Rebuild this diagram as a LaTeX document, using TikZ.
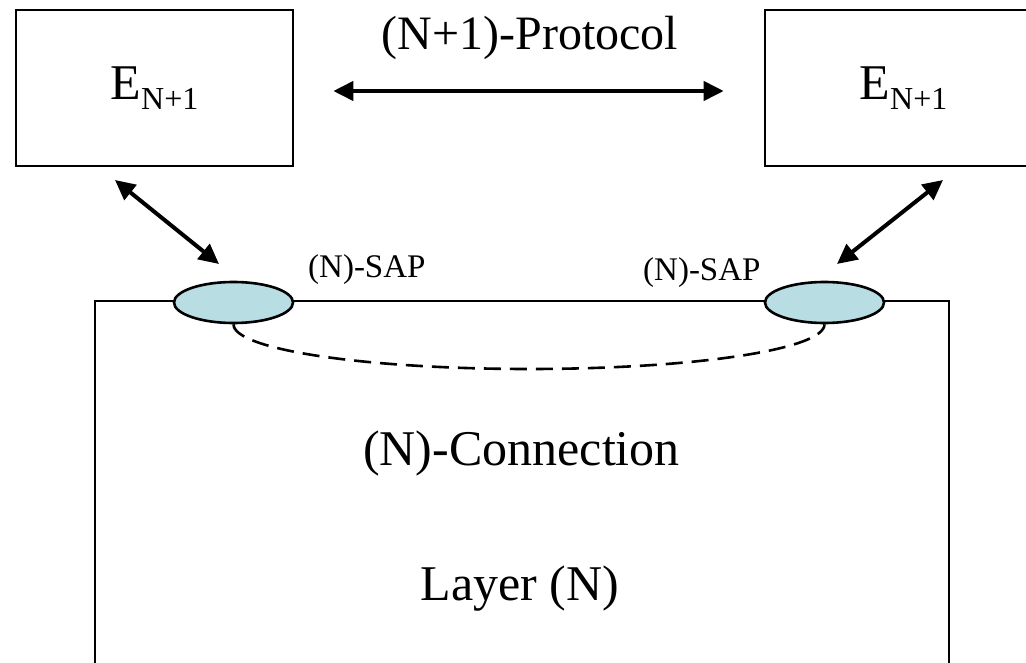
\documentclass[tikz,border=0pt]{standalone}
\usepackage{fontspec}
\setmainfont{Liberation Serif}
\usetikzlibrary{shapes.geometric,arrows.meta}

\definecolor{sapfill}{RGB}{184,222,227}

\tikzset{
  entity/.style={draw=black, line width=2.6pt, rectangle, minimum width=277pt,
    minimum height=156pt, inner sep=0pt},
  layerbox/.style={draw=black, line width=2.4pt, rectangle, minimum width=854pt,
    minimum height=399pt, inner sep=0pt},
  sap/.style={draw=black, line width=2.6pt, fill=sapfill, ellipse,
    minimum width=119pt, minimum height=41pt, inner sep=0pt},
  bigtext/.style={font=\fontsize{50}{50}\selectfont, inner sep=0pt},
  smalltext/.style={font=\fontsize{33}{33}\selectfont, inner sep=0pt},
  both/.style={line width=4pt, {Triangle[length=20pt,width=19pt]}-{Triangle[length=20pt,width=19pt]}},
  conn/.style={line width=2.6pt, dash pattern=on 17pt off 9pt},
}

\newcommand{\entname}{\raisebox{-4pt}{E{\fontsize{32}{32}\selectfont\raisebox{-10pt}{N+1}}}}

\begin{document}
\begin{tikzpicture}[x=1pt, y=-1pt]
  \useasboundingbox (0,0) rectangle (1026,663);
  \clip (0,0) rectangle (1026,663);

  % layer (N) with its two service access points
  \node[layerbox] (layer) at (522,500.5) {};
  \node[sap] (sapL) at (233.5,302.5) {};
  \node[sap] (sapR) at (824.5,302.5) {};

  % (N+1) entities
  \node[entity, bigtext] (eL) at (154.5,88) {\entname};
  \node[entity, bigtext] (eR) at (903.5,88) {\entname};

  % labels
  \node[bigtext, font=\fontsize{48}{48}\selectfont, anchor=base] (proto) at (530,50) {(N+1)-Protocol};
  \node[smalltext, anchor=base west] (sapLlab) at (308,278) {(N)-SAP};
  \node[smalltext, anchor=base west] (sapRlab) at (643,281) {(N)-SAP};
  \node[bigtext, anchor=base] (connlab) at (521.5,465) {(N)-Connection};
  \node[bigtext, anchor=base] (layerlab) at (520,600) {Layer (N)};

  % peer protocol
  \draw[both, shorten <=39pt, shorten >=40pt] ([yshift=-3pt]eL.east) -- ([yshift=-3pt]eR.west);

  % entity <-> SAP
  \coordinate (aL1) at (115,180);
  \coordinate (aL2) at (219,264);
  \coordinate (aR1) at (943,180);
  \coordinate (aR2) at (837,264);
  \draw[both] (aL1) -- (aL2);
  \draw[both] (aR1) -- (aR2);

  % (N)-connection between the SAPs
  \coordinate (cbot) at (529,369);
  \draw[conn] (sapL.south) .. controls +(0,25.4) and +(-163.2,0) .. (cbot)
              .. controls +(163.2,0) and +(0,25.4) .. (sapR.south);
\end{tikzpicture}
\end{document}
